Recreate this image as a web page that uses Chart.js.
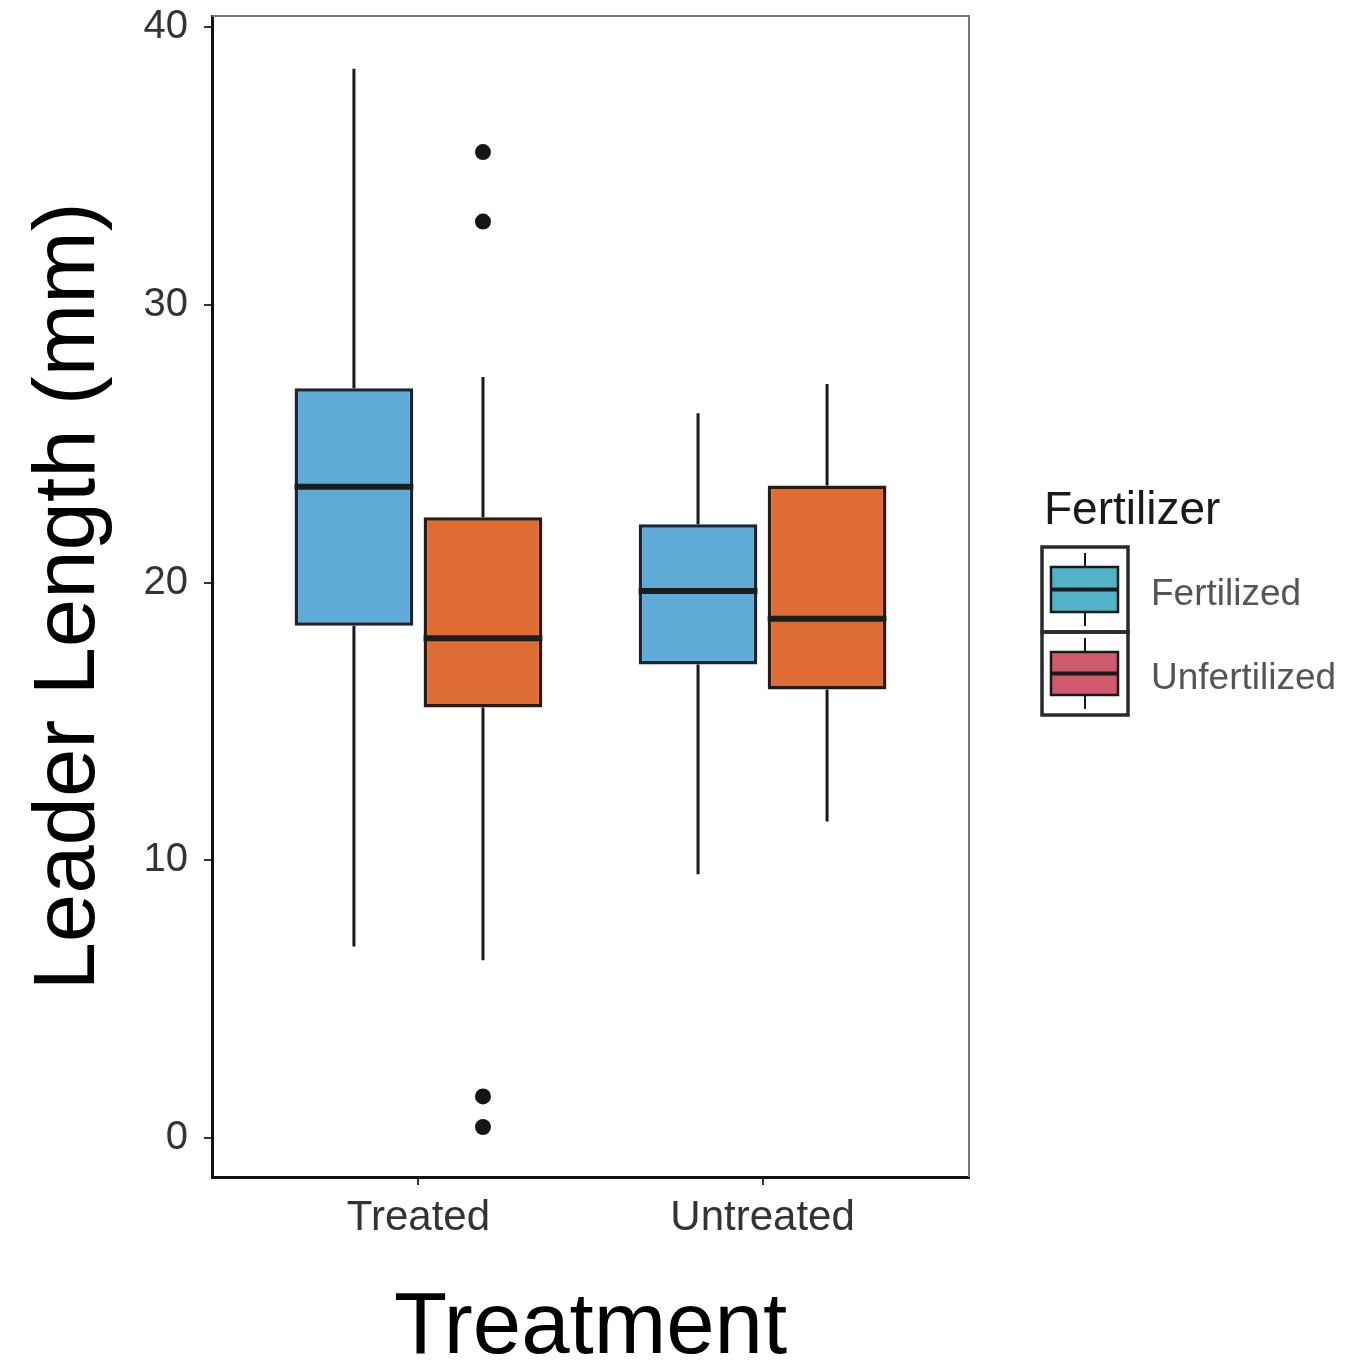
<!DOCTYPE html>
<html>
<head>
<meta charset="utf-8">
<title>Leader Length by Treatment</title>
<script src="https://cdn.jsdelivr.net/npm/chart.js@4.4.1/dist/chart.umd.min.js"></script>
<style>
  html, body { margin: 0; padding: 0; background: #fff; }
  #wrap { width: 1363px; height: 1360px; }
</style>
</head>
<body>
<div id="wrap"><canvas id="chart" width="1363" height="1360"></canvas></div>
<script>
// groups on the x axis
const groups = ['Treated', 'Untreated']
const fertilizers = ['Fertilized', 'Unfertilized']

// Fertilized boxes (one value per group)
const fertLow = [6.9, 9.5]
const fertQ1 = [18.45, 17.05]
const fertMed = [23.45, 19.7]
const fertQ3 = [27.0, 22.1]
const fertHigh = [38.5, 26.1]
const fertOutliers = [[], []]

// Unfertilized boxes
const unfertLow = [6.4, 11.4]
const unfertQ1 = [15.5, 16.15]
const unfertMed = [18.0, 18.7]
const unfertQ3 = [22.35, 23.5]
const unfertHigh = [27.4, 27.15]
const unfertOutliers = [[35.5, 33.0, 1.5, 0.4], []]

const yTicks = [0, 10, 20, 30, 40]

const FONT = "'Liberation Sans', Arial, Helvetica, sans-serif"
const dodge = 0.1875 // ggplot dodge: 0.75 box width split in two

function boxData(q1, q3, side) {
    return groups.map((g, i) => ({ x: i + 1 + side * dodge, y: [q1[i], q3[i]] }))
}
function outlierData(list, side) {
    let pts = []
    list.forEach((arr, i) => arr.forEach(v => pts.push({ x: i + 1 + side * dodge, y: v })))
    return pts
}

// whiskers under the boxes, medians on top
const boxPlot = {
    id: 'boxPlot',
    beforeDatasetsDraw(chart) {
        const ctx = chart.ctx
        const y = chart.scales.y
        const sets = [[fertLow, fertHigh, fertQ1, fertQ3], [unfertLow, unfertHigh, unfertQ1, unfertQ3]]
        ctx.save()
        ctx.strokeStyle = '#1a1a1a'
        ctx.lineWidth = 3
        sets.forEach((s, d) => {
            chart.getDatasetMeta(d).data.forEach((el, i) => {
                ctx.beginPath()
                ctx.moveTo(el.x, y.getPixelForValue(s[1][i]))
                ctx.lineTo(el.x, y.getPixelForValue(s[3][i]))
                ctx.moveTo(el.x, y.getPixelForValue(s[2][i]))
                ctx.lineTo(el.x, y.getPixelForValue(s[0][i]))
                ctx.stroke()
            })
        })
        ctx.restore()
    },
    afterDatasetsDraw(chart) {
        const ctx = chart.ctx
        const y = chart.scales.y
        const meds = [fertMed, unfertMed]
        ctx.save()
        ctx.strokeStyle = '#1b1f1b'
        ctx.lineWidth = 6
        meds.forEach((m, d) => {
            chart.getDatasetMeta(d).data.forEach((el, i) => {
                const py = y.getPixelForValue(m[i])
                ctx.beginPath()
                ctx.moveTo(el.x - el.width / 2, py)
                ctx.lineTo(el.x + el.width / 2, py)
                ctx.stroke()
            })
        })
        ctx.restore()
    },
    afterDraw(chart) {
        const ctx = chart.ctx
        const a = chart.chartArea
        ctx.save()
        // top and right panel border
        ctx.strokeStyle = '#777'
        ctx.lineWidth = 2
        ctx.beginPath()
        ctx.moveTo(a.left, a.top)
        ctx.lineTo(a.right, a.top)
        ctx.lineTo(a.right, a.bottom)
        ctx.stroke()

        // axis titles
        ctx.fillStyle = '#000'
        ctx.font = `87px ${FONT}`
        ctx.textAlign = 'center'
        ctx.textBaseline = 'alphabetic'
        ctx.fillText('Treatment', (a.left + a.right) / 2, 1353)
        ctx.save()
        ctx.translate(94, (a.top + a.bottom) / 2)
        ctx.rotate(-Math.PI / 2)
        ctx.fillText('Leader Length (mm)', 0, 0)
        ctx.restore()

        // legend
        const lx = a.right + 73
        ctx.textAlign = 'left'
        ctx.fillStyle = '#1a1a1a'
        ctx.font = `46px ${FONT}`
        ctx.fillText('Fertilizer', lx + 2, 524)
        const keyColors = ['#52b3c8', '#cf5a6c']
        const keyTop = [547, 632]
        const keyH = [85, 83]
        fertilizers.forEach((f, k) => {
            const top = keyTop[k]
            const h = keyH[k]
            const cx = lx + 43
            // whisker
            ctx.strokeStyle = '#1a1a1a'
            ctx.lineWidth = 2
            ctx.beginPath()
            ctx.moveTo(cx, top + 6)
            ctx.lineTo(cx, top + h - 6)
            ctx.stroke()
            // box
            ctx.fillStyle = keyColors[k]
            ctx.fillRect(lx + 9, top + 20, 67, h - 40)
            ctx.lineWidth = 2.5
            ctx.strokeRect(lx + 9, top + 20, 67, h - 40)
            ctx.lineWidth = 4
            ctx.beginPath()
            ctx.moveTo(lx + 9, top + h / 2)
            ctx.lineTo(lx + 76, top + h / 2)
            ctx.stroke()
            // key frame
            ctx.strokeStyle = '#2a2a2a'
            ctx.lineWidth = 3.5
            ctx.strokeRect(lx, top, 86, h)
            // label
            ctx.fillStyle = '#555'
            ctx.font = `37px ${FONT}`
            ctx.fillText(f, lx + 109, top + h / 2 + 15)
        })
        ctx.restore()
    }
}

const ctx = document.getElementById('chart')
new Chart(ctx, {
    type: 'bar',
    data: {
        datasets: [
            {
                label: fertilizers[0],
                data: boxData(fertQ1, fertQ3, -1),
                backgroundColor: '#60aad7',
                borderColor: '#1c2530',
                borderWidth: 3.5,
                borderSkipped: false,
                barPercentage: 0.92,
                categoryPercentage: 1,
                grouped: false
            },
            {
                label: fertilizers[1],
                data: boxData(unfertQ1, unfertQ3, 1),
                backgroundColor: '#de6c34',
                borderColor: '#2a1a12',
                borderWidth: 3.5,
                borderSkipped: false,
                barPercentage: 0.92,
                categoryPercentage: 1,
                grouped: false
            },
            {
                type: 'scatter',
                label: 'outliers',
                data: outlierData(fertOutliers, -1).concat(outlierData(unfertOutliers, 1)),
                pointRadius: 8,
                pointBackgroundColor: '#151515',
                pointBorderWidth: 0
            }
        ]
    },
    options: {
        responsive: false,
        animation: false,
        layout: { padding: { left: 0, top: 16, right: 394, bottom: 0 } },
        plugins: {
            legend: { display: false },
            tooltip: { enabled: false }
        },
        scales: {
            x: {
                type: 'linear',
                min: 0.4,
                max: 2.6,
                offset: false,
                grid: { offset: false, drawOnChartArea: false, drawTicks: true, tickLength: 8, color: '#333', lineWidth: 2 },
                border: { display: true, color: '#111', width: 3 },
                ticks: {
                    color: '#333',
                    font: { family: FONT, size: 42 },
                    padding: 8,
                    maxRotation: 0,
                    callback: (v, i) => groups[i]
                },
                afterBuildTicks: s => { s.ticks = groups.map((g, i) => ({ value: i + 1 })) },
                afterFit: s => { s.height = 183; s.paddingLeft = 0; s.paddingRight = 0 }
            },
            y: {
                min: -1.4,
                max: 40.4,
                grid: { drawOnChartArea: false, drawTicks: true, tickLength: 8, color: '#333', lineWidth: 2 },
                border: { display: true, color: '#111', width: 3 },
                ticks: {
                    color: '#333',
                    font: { family: FONT, size: 40 },
                    padding: 16
                },
                afterBuildTicks: s => { s.ticks = yTicks.map(v => ({ value: v })) },
                afterFit: s => { s.width = 212; s.paddingTop = 0; s.paddingBottom = 0 }
            }
        }
    },
    plugins: [boxPlot]
})
</script>
</body>
</html>
